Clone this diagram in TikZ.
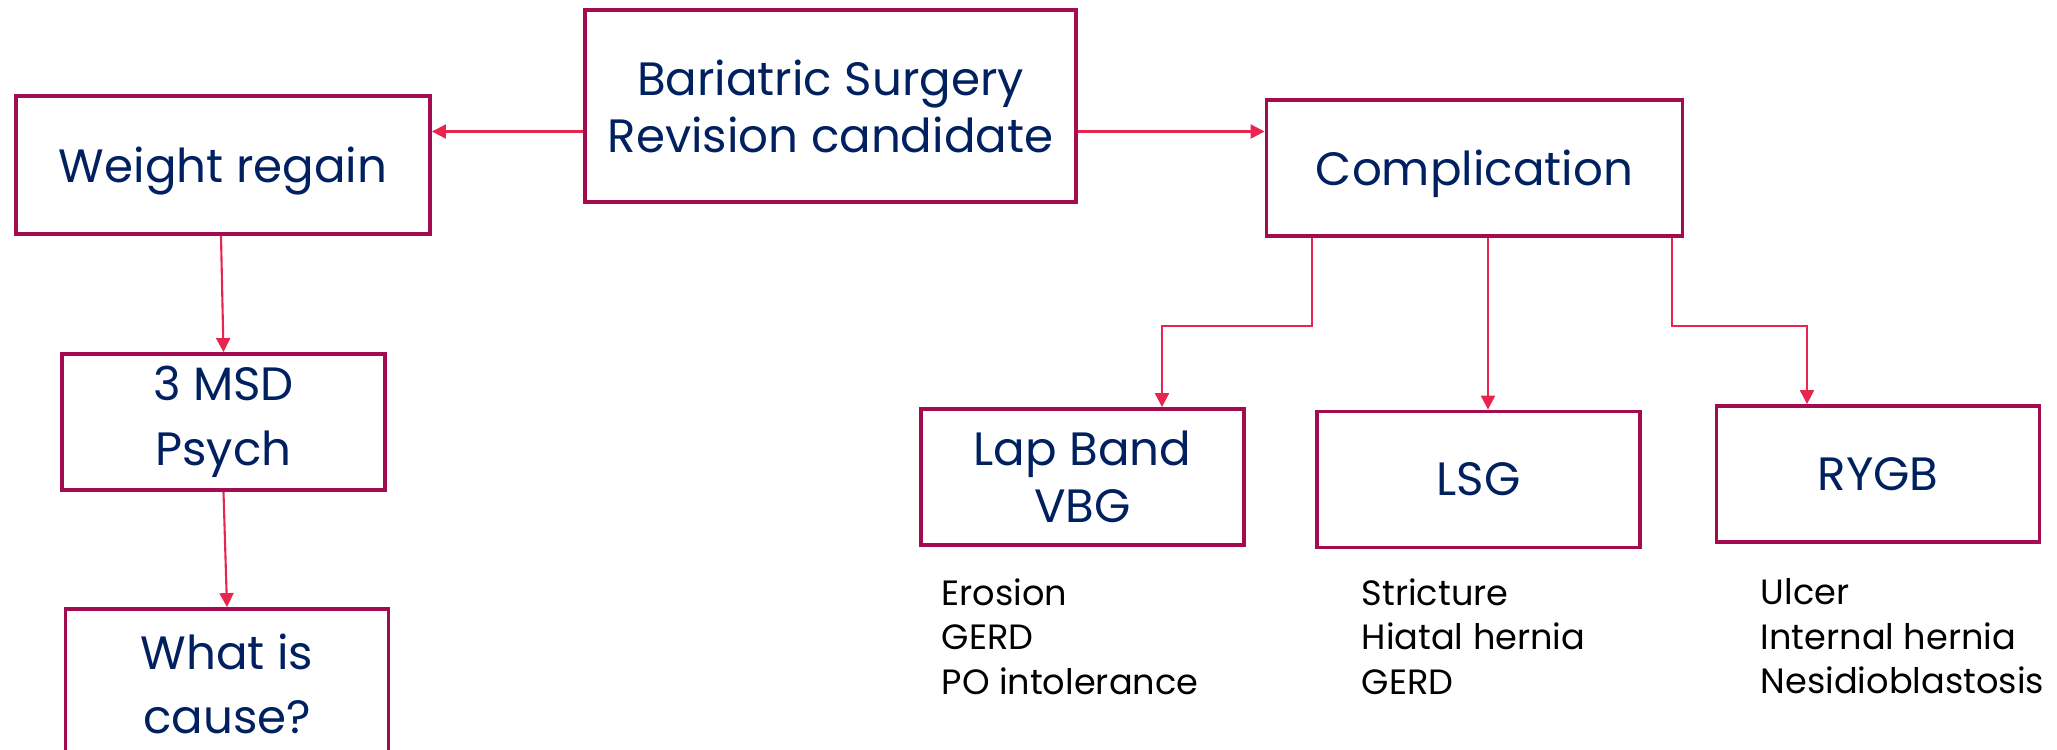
\documentclass[tikz,border=0pt]{standalone}
\usepackage{fontspec}
\setmainfont{Poppins}
\usepackage{xcolor}
\usetikzlibrary{arrows.meta, positioning}
\definecolor{boxline}{RGB}{163,13,80}
\definecolor{arrowred}{RGB}{232,37,79}
\definecolor{navy}{RGB}{0,32,96}

\begin{document}
\begin{tikzpicture}[
  block/.style={rectangle, draw=boxline, line width=1.1pt, text=navy, align=center, font=\fontsize{13.3}{16.2}\selectfont, inner sep=0pt, minimum width=3.23cm, minimum height=1.36cm},
  wide/.style={font=\fontsize{13.3}{18.4}\selectfont},
  arrow/.style={-{Triangle[length=1.4mm, width=1.4mm]}, draw=arrowred, line width=0.6pt},
  note/.style={align=left, font=\fontsize{10}{12.6}\selectfont, inner sep=0pt, anchor=north west}
]
\useasboundingbox (0,0) rectangle (20.57,-7.49);

\node[block, minimum width=4.91cm, minimum height=1.92cm] (cand) at (8.305,-1.06) {Bariatric Surgery\\Revision candidate};
\node[block, minimum width=4.14cm, minimum height=1.38cm, text depth=0pt] (regain) at (2.23,-1.65) {Weight regain};
\node[block, minimum width=4.16cm, text depth=0pt] (compl) at (14.745,-1.68) {Complication};
\node[block, wide] (msd) at (2.235,-4.22) {3 MSD\\Psych};
\node[block, wide, minimum height=1.5cm] (cause) at (2.27,-6.84) {What is\\cause?};
\node[block] (lap) at (10.825,-4.77) {Lap Band\\VBG};
\node[block] (lsg) at (14.785,-4.795) {LSG};
\node[block] (rygb) at (18.78,-4.74) {RYGB};

\node[note] (lapnote) at (9.41,-5.78) {Erosion\\GERD\\PO intolerance};
\node[note] (lsgnote) at (13.61,-5.78) {Stricture\\Hiatal hernia\\GERD};
\node[note] (rygbnote) at (17.60,-5.78) {Ulcer\\Internal hernia\\Nesidioblastosis};

\draw[arrow] ([yshift=-2.55mm]cand.west) -- ([yshift=-2.55mm]cand.west -| regain.east);
\draw[arrow] ([yshift=-2.55mm]cand.east) -- ([yshift=-2.55mm]cand.east -| compl.west);
\draw[arrow] ([xshift=-0.2mm]regain.south) -- (msd.north);
\draw[arrow] (msd.south) -- (cause.north);
\draw[arrow] ([xshift=-16.25mm]compl.south) -- ++(0,-0.88) -| ([xshift=7.95mm]lap.north);
\draw[arrow] ([xshift=1.35mm]compl.south) -- ([xshift=1.35mm]compl.south |- lsg.north);
\draw[arrow] ([xshift=19.75mm]compl.south) -- ++(0,-0.88) -| ([xshift=-7.1mm]rygb.north);
\end{tikzpicture}
\end{document}
